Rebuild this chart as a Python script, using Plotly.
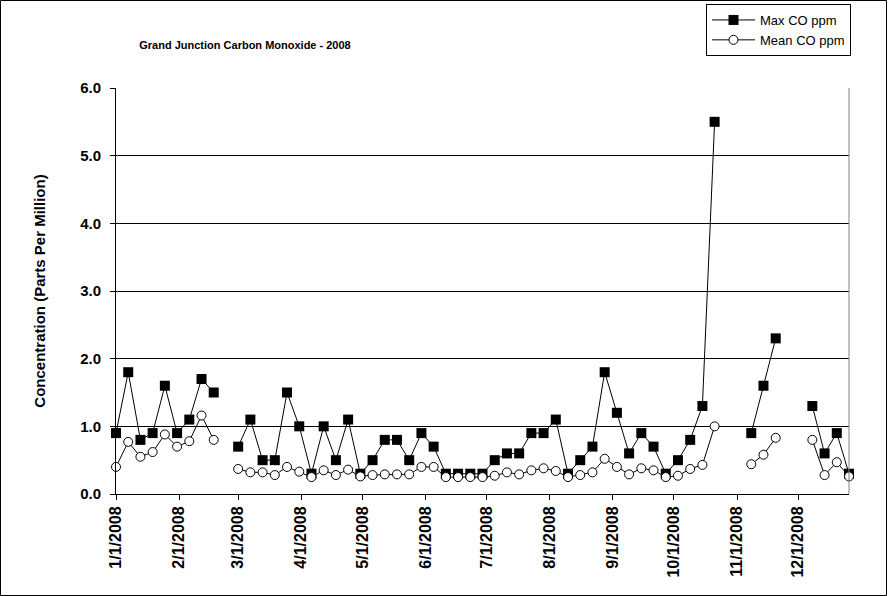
import plotly.graph_objects as go

# sampling days (1-in-6 schedule)
dates = [
    "2008-01-01", "2008-01-07", "2008-01-13", "2008-01-19", "2008-01-25", "2008-01-31",
    "2008-02-06", "2008-02-12", "2008-02-18", "2008-02-24",
    "2008-03-01", "2008-03-07", "2008-03-13", "2008-03-19", "2008-03-25", "2008-03-31",
    "2008-04-06", "2008-04-12", "2008-04-18", "2008-04-24", "2008-04-30",
    "2008-05-06", "2008-05-12", "2008-05-18", "2008-05-24", "2008-05-30",
    "2008-06-05", "2008-06-11", "2008-06-17", "2008-06-23", "2008-06-29",
    "2008-07-05", "2008-07-11", "2008-07-17", "2008-07-23", "2008-07-29",
    "2008-08-04", "2008-08-10", "2008-08-16", "2008-08-22", "2008-08-28",
    "2008-09-03", "2008-09-09", "2008-09-15", "2008-09-21", "2008-09-27",
    "2008-10-03", "2008-10-09", "2008-10-15", "2008-10-21", "2008-10-27",
    "2008-11-02", "2008-11-08", "2008-11-14", "2008-11-20", "2008-11-26",
    "2008-12-02", "2008-12-08", "2008-12-14", "2008-12-20", "2008-12-26",
]

max_co = [
    0.9, 1.8, 0.8, 0.9, 1.6, 0.9, 1.1, 1.7, 1.5, None,
    0.7, 1.1, 0.5, 0.5, 1.5, 1.0, 0.3, 1.0, 0.5, 1.1,
    0.3, 0.5, 0.8, 0.8, 0.5, 0.9, 0.7, 0.3, 0.3, 0.3,
    0.3, 0.5, 0.6, 0.6, 0.9, 0.9, 1.1, 0.3, 0.5, 0.7,
    1.8, 1.2, 0.6, 0.9, 0.7, 0.3, 0.5, 0.8, 1.3, 5.5,
    None, None, 0.9, 1.6, 2.3, None, None, 1.3, 0.6, 0.9,
    0.3,
]

mean_co = [
    0.40, 0.77, 0.55, 0.62, 0.88, 0.70, 0.78, 1.16, 0.80, None,
    0.37, 0.32, 0.32, 0.28, 0.40, 0.33, 0.25, 0.35, 0.28, 0.36,
    0.26, 0.28, 0.29, 0.29, 0.29, 0.40, 0.40, 0.25, 0.25, 0.25,
    0.25, 0.27, 0.32, 0.29, 0.35, 0.38, 0.34, 0.25, 0.28, 0.32,
    0.52, 0.40, 0.29, 0.38, 0.35, 0.25, 0.27, 0.37, 0.43, 1.00,
    None, None, 0.44, 0.58, 0.83, None, None, 0.80, 0.28, 0.47,
    0.26,
]

month_ticks = ["2008-%02d-01" % m for m in range(1, 13)]
month_labels = ["%d/1/2008" % m for m in range(1, 13)]

y_ticks = [0, 1, 2, 3, 4, 5, 6]
y_labels = ["0.0", "1.0", "2.0", "3.0", "4.0", "5.0", "6.0"]

fig = go.Figure()
fig.add_trace(go.Scatter(
    x=dates, y=max_co, name="Max CO ppm", mode="lines+markers",
    line=dict(color="black", width=1),
    marker=dict(symbol="square", size=10, color="black"),
    cliponaxis=False,
))
fig.add_trace(go.Scatter(
    x=dates, y=mean_co, name="Mean CO ppm", mode="lines+markers",
    line=dict(color="black", width=1),
    marker=dict(symbol="circle", size=9, color="white", line=dict(color="black", width=1)),
    cliponaxis=False,
))

# plot area: x 116..849, y 88..494 px
L, R, T, B = 116, 849, 88, 494
W, H = R - L, B - T

def px(p):
    return (p - L) / W

def py(p):
    return (B - p) / H

# outer chart border
fig.add_shape(type="rect", xref="paper", yref="paper",
              x0=px(0.5), x1=px(886.5), y0=py(595.5), y1=py(0.5),
              line=dict(color="black", width=1))
# right edge of the plot area
fig.add_shape(type="line", xref="paper", yref="paper",
              x0=1, x1=1, y0=0, y1=1, line=dict(color="#808080", width=1))

fig.update_layout(
    width=888, height=596,
    margin=dict(l=L, r=888 - R, t=T, b=596 - B, autoexpand=False),
    paper_bgcolor="white", plot_bgcolor="white",
    font=dict(family="Arial, Liberation Sans, sans-serif", color="black"),
    title=dict(text="<b>Grand Junction Carbon Monoxide - 2008</b>",
               x=245 / 888, xanchor="center", xref="container",
               y=1 - 45 / 596, yanchor="middle", yref="container",
               font=dict(size=11)),
    legend=dict(x=706 / 888, xref="container", xanchor="left",
                y=1 - 4 / 596, yref="container", yanchor="top",
                bordercolor="black", borderwidth=1, bgcolor="white",
                font=dict(size=13), itemwidth=43, tracegroupgap=4),
    showlegend=True,
)

fig.update_xaxes(
    type="date", range=["2008-01-01", "2008-12-26"],
    tickvals=month_ticks, ticktext=["<b>%s</b>" % t for t in month_labels], tickangle=-90,
    tickfont=dict(size=16),
    showgrid=False, showline=True, linecolor="black", linewidth=1,
    ticks="outside", ticklen=5, tickcolor="black", zeroline=False,
)
fig.update_yaxes(
    range=[0, 6], tickvals=y_ticks, ticktext=["<b>%s</b>" % t for t in y_labels],
    tickfont=dict(size=15), ticklabelstandoff=6,
    showgrid=True, gridcolor="black", gridwidth=1,
    showline=True, linecolor="black", linewidth=1,
    ticks="outside", ticklen=5, tickcolor="black", zeroline=False,
    title=dict(text="<b>Concentration (Parts Per Million)</b>", font=dict(size=15), standoff=30),
)

fig.write_html("out.html", config={"displayModeBar": False},
               post_script="document.body.style.margin='0';")
